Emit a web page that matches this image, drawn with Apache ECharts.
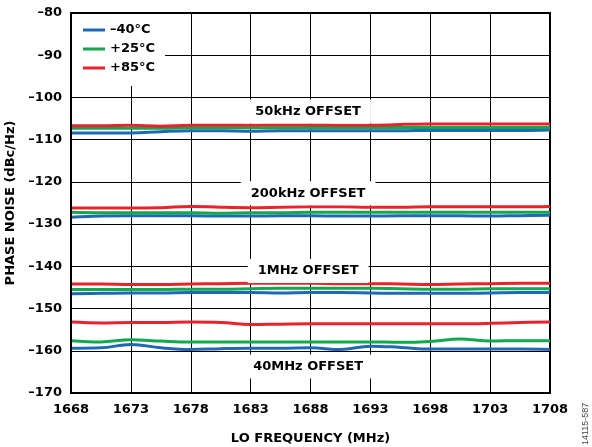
<!DOCTYPE html>
<html>
<head>
<meta charset="utf-8">
<script src="https://cdn.jsdelivr.net/npm/echarts@6/dist/echarts.min.js"></script>
<style>html,body{margin:0;padding:0;background:#fff}#c{width:592px;height:447px}</style>
</head>
<body>
<div id="c"></div>
<script>
var freqs = [1668, 1670.5, 1673, 1675.5, 1678, 1680.5, 1683, 1685.5, 1688, 1690.5, 1693, 1695.5, 1698, 1700.5, 1703, 1705.5, 1708];
var temps = ['–40°C', '+25°C', '+85°C'];
var xTicks = [1668, 1673, 1678, 1683, 1688, 1693, 1698, 1703, 1708];
var yTicks = [-170, -160, -150, -140, -130, -120, -110, -100, -90, -80];

// 50kHz offset
var n40_50k = [-108.4, -108.4, -108.4, -108.1, -107.9, -107.9, -108.0, -107.9, -107.9, -107.9, -107.9, -107.9, -107.8, -107.8, -107.8, -107.8, -107.7];
var p25_50k = [-107.3, -107.3, -107.3, -107.3, -107.2, -107.2, -107.2, -107.2, -107.1, -107.1, -107.1, -107.1, -107.1, -107.1, -107.1, -107.1, -107.1];
var p85_50k = [-106.7, -106.7, -106.6, -106.8, -106.6, -106.6, -106.6, -106.5, -106.5, -106.6, -106.6, -106.4, -106.3, -106.3, -106.3, -106.3, -106.3];
// 200kHz offset
var n40_200k = [-128.4, -128.1, -128.0, -128.0, -128.0, -128.1, -128.1, -128.0, -128.0, -128.1, -128.1, -128.0, -128.0, -128.0, -128.1, -128.0, -127.9];
var p25_200k = [-127.2, -127.3, -127.3, -127.3, -127.3, -127.4, -127.3, -127.3, -127.2, -127.2, -127.2, -127.2, -127.2, -127.2, -127.2, -127.2, -127.2];
var p85_200k = [-126.2, -126.2, -126.2, -126.1, -125.8, -126.0, -126.1, -126.0, -125.9, -125.9, -126.0, -126.0, -125.9, -125.9, -125.9, -125.9, -125.8];
// 1MHz offset
var n40_1m = [-146.5, -146.4, -146.3, -146.3, -146.2, -146.2, -146.2, -146.3, -146.2, -146.2, -146.3, -146.4, -146.4, -146.4, -146.3, -146.2, -146.2];
var p25_1m = [-145.5, -145.5, -145.5, -145.5, -145.4, -145.4, -145.3, -145.2, -145.2, -145.2, -145.2, -145.3, -145.4, -145.4, -145.3, -145.3, -145.3];
var p85_1m = [-144.2, -144.2, -144.3, -144.3, -144.2, -144.1, -144.0, -144.0, -144.0, -144.1, -144.1, -144.2, -144.3, -144.2, -144.1, -144.0, -144.0];
// 40MHz offset
var n40_40m = [-159.4, -159.3, -158.5, -159.3, -159.7, -159.5, -159.4, -159.4, -159.3, -159.7, -158.9, -159.2, -159.6, -159.6, -159.6, -159.6, -159.7];
var p25_40m = [-157.6, -157.9, -157.4, -157.7, -157.9, -157.9, -157.9, -157.9, -157.9, -157.9, -157.9, -158.0, -157.8, -157.2, -157.7, -157.6, -157.6];
var p85_40m = [-153.2, -153.4, -153.3, -153.3, -153.2, -153.3, -153.8, -153.7, -153.6, -153.6, -153.6, -153.6, -153.6, -153.6, -153.5, -153.3, -153.2];

var offsetLabels = ['50kHz OFFSET', '200kHz OFFSET', '1MHz OFFSET', '40MHz OFFSET'];
var offsetLabelPos = [[1687.8, -103.3], [1687.8, -122.7], [1687.8, -141.1], [1687.8, -163.7]];

var colors = ['#2068b4', '#11a84e', '#e8232b'];
var groups = [
  [n40_50k, n40_200k, n40_1m, n40_40m],
  [p25_50k, p25_200k, p25_1m, p25_40m],
  [p85_50k, p85_200k, p85_1m, p85_40m]
];

function pairs(vals) { return freqs.map(function (f, i) { return [f, vals[i]]; }); }
var fontFam = '"DejaVu Sans", sans-serif';
var txt = { fontSize: 13, fontWeight: 'bold', color: '#000', fontFamily: fontFam };

var series = [];
groups.forEach(function (g, ti) {
  g.forEach(function (vals) {
    series.push({
      name: temps[ti], type: 'line', data: pairs(vals), showSymbol: false, symbol: 'none',
      smooth: 0.4, color: colors[ti], lineStyle: { width: 3, color: colors[ti] }, z: 3
    });
  });
});
series.push({
  name: 'labels', type: 'scatter', data: [], silent: true, z: 10,
  markPoint: {
    symbol: 'rect', symbolSize: 0, silent: true,
    label: Object.assign({
      show: true, position: 'inside',
      backgroundColor: '#fff', padding: [6, 10, 5, 10],
      formatter: function (p) { return p.name; }
    }, txt),
    data: offsetLabels.map(function (t, i) { return { name: t, coord: offsetLabelPos[i] }; })
  }
});

var borderAxis = {
  type: 'value', axisLine: { show: true, lineStyle: { color: '#000', width: 2 } },
  axisTick: { show: false }, axisLabel: { show: false }, splitLine: { show: false }, z: 10
};

var chart = echarts.init(document.getElementById('c'), null, { renderer: 'canvas' });
chart.setOption({
  animation: false,
  backgroundColor: '#fff',
  grid: { left: 71, right: 42, top: 13, bottom: 54, outerBoundsMode: 'none', containLabel: false,
    show: true, borderColor: '#000', borderWidth: 2, backgroundColor: 'transparent' },
  legend: {
    data: temps, orient: 'vertical', left: 72, top: 14,
    backgroundColor: '#fff', padding: [9, 10, 11, 11], itemGap: 5,
    itemWidth: 22, itemHeight: 14, symbolKeepAspect: false,
    icon: 'path://M0,0 M0,5.5 L22,5.5 L22,8.5 L0,8.5 Z M22,14',
    textStyle: txt
  },
  xAxis: [{
    type: 'value', min: xTicks[0], max: xTicks[xTicks.length - 1], interval: 5,
    name: 'LO FREQUENCY (MHz)', nameLocation: 'middle', nameGap: 39,
    nameTextStyle: txt,
    axisLine: { show: true, lineStyle: { color: '#000', width: 2 } },
    axisTick: { show: false },
    axisLabel: Object.assign({ margin: 10, formatter: function (v) { return String(v); } }, txt),
    splitLine: { show: true, lineStyle: { color: '#000', width: 1 } }
  }, Object.assign({ position: 'top', min: xTicks[0], max: xTicks[xTicks.length - 1] }, borderAxis)],
  yAxis: [{
    type: 'value', min: yTicks[0], max: yTicks[yTicks.length - 1], interval: 10,
    name: 'PHASE NOISE (dBc/Hz)', nameLocation: 'middle', nameGap: 47,
    nameTextStyle: txt,
    axisLine: { show: true, lineStyle: { color: '#000', width: 2 } },
    axisTick: { show: false },
    axisLabel: Object.assign({ margin: 9,
      formatter: function (v) { return String(v).replace('-', '–'); } }, txt),
    splitLine: { show: true, lineStyle: { color: '#000', width: 1 } }
  }, Object.assign({ position: 'left', min: yTicks[0], max: yTicks[yTicks.length - 1] }, borderAxis)],
  graphic: [{
    type: 'text', right: 2, bottom: 2, rotation: Math.PI / 2,
    style: { text: '14115-587', fontSize: 9, fill: '#444', fontFamily: '"Liberation Sans", Arial, sans-serif' }
  }],
  series: series
});
</script>
</body>
</html>
